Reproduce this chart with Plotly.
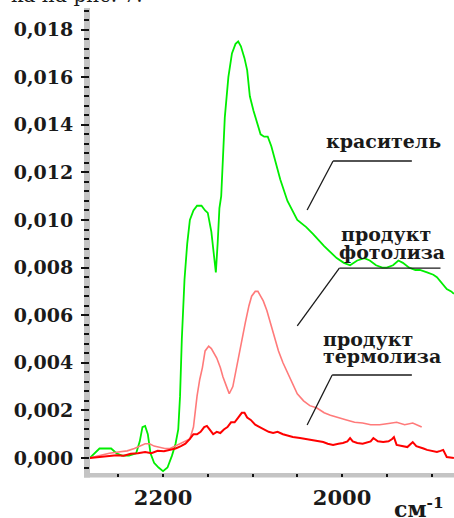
import plotly.graph_objects as go

# Wavenumber (cm^-1) and absorbance for the dye
dye_wn = [2282, 2276, 2271, 2266, 2258, 2252, 2246, 2238, 2230, 2226, 2223, 2220, 2217,
          2214, 2210, 2205, 2200, 2195, 2190, 2186, 2183, 2181, 2179, 2176, 2173, 2170,
          2166, 2162, 2157, 2153, 2150, 2146, 2143, 2141, 2139, 2137, 2135, 2134, 2131,
          2127, 2123, 2119, 2116, 2113, 2109, 2106, 2103, 2099, 2095, 2091, 2087, 2083,
          2079, 2075, 2069, 2061, 2050, 2040, 2032, 2020, 2006, 1998, 1991, 1983, 1975,
          1969, 1962, 1955, 1950, 1943, 1937, 1932, 1925, 1918, 1913, 1905, 1898, 1894,
          1888, 1883, 1878, 1875]
dye_abs = [0.0000, 0.0002, 0.0004, 0.0004, 0.0004, 0.0002, 0.0001, 0.0001, 0.0002, 0.0007,
           0.0013, 0.00135, 0.0010, 0.0002, -0.0002, -0.0004, -0.00055, -0.0004, 0.0001,
           0.0006, 0.0012, 0.0026, 0.0050, 0.0075, 0.0090, 0.0100, 0.0104, 0.0106, 0.0106,
           0.0104, 0.0103, 0.0095, 0.0085, 0.0078, 0.0090, 0.0105, 0.0110, 0.0117, 0.0143,
           0.0160, 0.0170, 0.0174, 0.0175, 0.0173, 0.0168, 0.0163, 0.0152, 0.0146, 0.0141,
           0.0136, 0.0135, 0.0135, 0.0131, 0.0125, 0.0117, 0.0108, 0.0100, 0.0097, 0.0094,
           0.0089, 0.0084, 0.0082, 0.0081, 0.0083, 0.0084, 0.0083, 0.0081, 0.0080, 0.0080,
           0.0081, 0.0083, 0.0082, 0.0080, 0.0079, 0.0079, 0.0078, 0.0077, 0.0076, 0.0073,
           0.0071, 0.0070, 0.0069]

# Photolysis product
photo_wn = [2282, 2270, 2260, 2250, 2240, 2232, 2226, 2220, 2215, 2210, 2204, 2198, 2192,
            2186, 2180, 2175, 2170, 2166, 2162, 2159, 2156, 2153, 2149, 2146, 2143, 2140,
            2136, 2133, 2129, 2126, 2122, 2119, 2116, 2112, 2108, 2104, 2101, 2097, 2094,
            2091, 2088, 2084, 2080, 2075, 2071, 2066, 2061, 2055, 2050, 2043, 2036, 2028,
            2020, 2013, 2005, 1995, 1986, 1977, 1968, 1958, 1948, 1939, 1930, 1921, 1911]
photo_abs = [0.0000, 0.0001, 0.0002, 0.00025, 0.0003, 0.0004, 0.0005, 0.0006, 0.0006,
             0.0005, 0.00045, 0.0004, 0.0004, 0.0005, 0.0006, 0.0007, 0.0008, 0.0013,
             0.0026, 0.0033, 0.0038, 0.0045, 0.0047, 0.0046, 0.0044, 0.0042, 0.0038,
             0.0034, 0.0030, 0.0027, 0.0030, 0.0036, 0.0042, 0.0050, 0.0057, 0.0064,
             0.0068, 0.0070, 0.0070, 0.0068, 0.0066, 0.0062, 0.0057, 0.0050, 0.0045,
             0.0040, 0.0036, 0.0031, 0.0027, 0.0024, 0.0022, 0.0021, 0.0019, 0.0018,
             0.0017, 0.0016, 0.0015, 0.00147, 0.0014, 0.0014, 0.00145, 0.0015, 0.0014,
             0.00147, 0.0013]

# Thermolysis product
thermo_wn = [2282, 2272, 2262, 2252, 2244, 2236, 2228, 2220, 2213, 2206, 2199, 2192, 2186,
             2180, 2175, 2170, 2166, 2162, 2158, 2154, 2151, 2148, 2144, 2140, 2136, 2132,
             2128, 2124, 2120, 2116, 2112, 2109, 2106, 2102, 2097, 2092, 2087, 2082, 2077,
             2072, 2066, 2061, 2055, 2047, 2040, 2032, 2027, 2021, 2016, 2010, 2004, 1999,
             1994, 1991, 1988, 1983, 1977, 1972, 1968, 1965, 1960, 1954, 1948, 1944, 1942,
             1939, 1933, 1927, 1923, 1921, 1917, 1913, 1909, 1905, 1900, 1894, 1890, 1887,
             1883, 1878, 1875]
thermo_abs = [0.0000, 0.00005, 0.0001, 0.00012, 0.0001, 0.00018, 0.0002, 0.00025, 0.0002,
              0.0003, 0.00028, 0.00035, 0.0004, 0.0005, 0.0006, 0.0008, 0.0010, 0.0010,
              0.0011, 0.0013, 0.00135, 0.0012, 0.0010, 0.0011, 0.00105, 0.0012, 0.0013,
              0.0015, 0.0015, 0.0017, 0.0019, 0.0019, 0.0017, 0.0016, 0.0014, 0.0013,
              0.0012, 0.0011, 0.00105, 0.0011, 0.0010, 0.00095, 0.00088, 0.00084, 0.0008,
              0.00076, 0.0007, 0.00067, 0.0006, 0.00055, 0.0006, 0.00063, 0.0007, 0.00084,
              0.0007, 0.00063, 0.0006, 0.00067, 0.0007, 0.00084, 0.0007, 0.00067, 0.0007,
              0.0008, 0.00088, 0.00055, 0.0005, 0.00046, 0.0006, 0.00067, 0.0005, 0.00046,
              0.0004, 0.00034, 0.0003, 0.00025, 0.0003, 0.00034, 0.00004, 0.00002, 0.0]

# Labels and leader lines: text lines with anchor points, elbow, horizontal end, tip
labels = [
    {"lines": [("краситель", 1954, 0.01332)],
     "elbow": (2010, 0.01248), "end": 1922, "tip": (2039, 0.01042)},
    {"lines": [("продукт", 1951, 0.00941), ("фотолиза", 1944, 0.00866)],
     "elbow": (2003, 0.00798), "end": 1890, "tip": (2050, 0.00555)},
    {"lines": [("продукт", 1971, 0.0050), ("термолиза", 1955, 0.00429)],
     "elbow": (2011, 0.00349), "end": 1922, "tip": (2039, 0.00139)},
]

SERIF = "DejaVu Serif"
INK = "#1a1a1a"

fig = go.Figure()
fig.add_trace(go.Scatter(x=dye_wn, y=dye_abs, mode="lines",
                         line=dict(color="#00ee00", width=1.8)))
fig.add_trace(go.Scatter(x=photo_wn, y=photo_abs, mode="lines",
                         line=dict(color="#ff7a7a", width=1.6)))
fig.add_trace(go.Scatter(x=thermo_wn, y=thermo_abs, mode="lines",
                         line=dict(color="#ff0000", width=2)))

shapes = [
    # grey axis bars
    dict(type="rect", xref="paper", yref="paper", xsizemode="pixel", ysizemode="pixel",
         xanchor=0, yanchor=0, x0=-6, x1=0, y0=-4.5, y1=465,
         fillcolor="#c4c4c4", line=dict(width=0), layer="below"),
    dict(type="rect", xref="paper", yref="paper", xsizemode="pixel", ysizemode="pixel",
         xanchor=0, yanchor=0, x0=-6, x1=364, y0=-4.5, y1=0,
         fillcolor="#c4c4c4", line=dict(width=0), layer="below"),
]
annotations = []
for lab in labels:
    ex, ey = lab["elbow"]
    tx, ty = lab["tip"]
    shapes.append(dict(type="line", xref="x", yref="y", x0=ex, y0=ey, x1=lab["end"], y1=ey,
                       line=dict(color=INK, width=1.4)))
    shapes.append(dict(type="line", xref="x", yref="y", x0=ex, y0=ey, x1=tx, y1=ty,
                       line=dict(color=INK, width=1.3)))
    for text, x, y in lab["lines"]:
        annotations.append(dict(x=x, y=y, xref="x", yref="y", text=text, showarrow=False,
                                xanchor="center", yanchor="middle",
                                font=dict(family=SERIF, size=19, color=INK, weight="bold")))

# unit label at the lower right
annotations.append(dict(x=302 / 364, y=-19 / 465, xref="paper", yref="paper",
                        text="см<sup>-1</sup>", showarrow=False, xanchor="left",
                        yanchor="top",
                        font=dict(family=SERIF, size=22, color=INK, weight="bold")))
# line of body text above the figure
annotations.append(dict(x=55 / 364, y=(465 - 1) / 465, xref="paper", yref="paper",
                        text="ка на рис. 7.", showarrow=False, xanchor="right",
                        yanchor="bottom", font=dict(family=SERIF, size=20, color=INK)))

fig.update_layout(
    width=454, height=518,
    margin=dict(l=90, r=0, t=8, b=45),
    paper_bgcolor="white", plot_bgcolor="white",
    showlegend=False,
    separators=", ",
    shapes=shapes,
    annotations=annotations,
    xaxis=dict(range=[2281.6, 1874.9], showgrid=False, zeroline=False, showline=False,
               tick0=2000, dtick=200, ticks="outside", ticklen=3, tickwidth=2,
               tickcolor="#111111", ticklabelstandoff=3,
               minor=dict(tick0=2000, dtick=50, ticks="outside", ticklen=3, tickwidth=1.5,
                          tickcolor="#111111"),
               tickfont=dict(family=SERIF, size=21, color=INK, weight="bold")),
    yaxis=dict(range=[-0.00063, 0.018908], showgrid=False, zeroline=False, showline=False,
               tick0=0, dtick=0.002, tickformat=".3f", ticks="outside", ticklen=8,
               tickwidth=2, tickcolor="#111111", ticklabelstandoff=4,
               minor=dict(tick0=0, dtick=0.0004, ticks="outside", ticklen=5, tickwidth=1.5,
                          tickcolor="#111111"),
               tickfont=dict(family=SERIF, size=19, color=INK, weight="bold")),
)

fig.write_html("out.html")
